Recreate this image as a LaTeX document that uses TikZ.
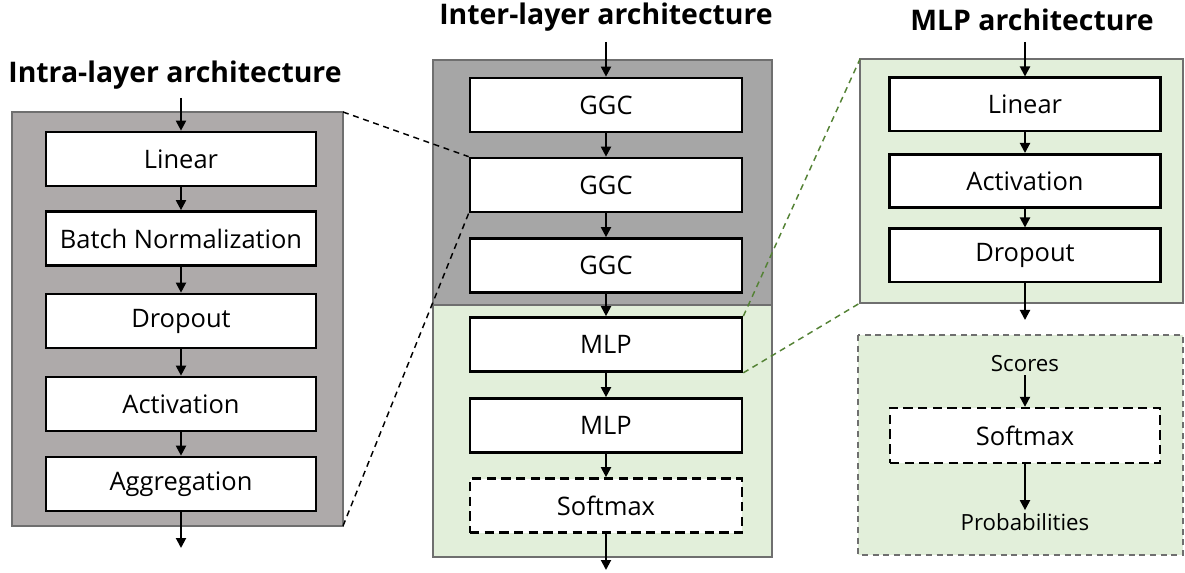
\documentclass[tikz,border=0pt]{standalone}
\usepackage{fontspec}
\setmainfont{Open Sans}
\usetikzlibrary{arrows.meta,backgrounds}
\definecolor{lgray}{HTML}{AEAAAA}
\definecolor{mgray}{HTML}{A6A6A6}
\definecolor{lgreen}{HTML}{E2EFDA}
\definecolor{dgreen}{HTML}{548235}
\definecolor{bord}{HTML}{6F6F6F}
\begin{document}
\begin{tikzpicture}[x=0.75pt,y=-0.75pt,
  box/.style={draw=black, line width=2pt, fill=white, inner sep=0pt,
    minimum height=40.5pt, font=\fontsize{19.1}{21}\selectfont},
  lbox/.style={box, minimum width=202.5pt},
  mbox/.style={box, minimum width=204pt},
  rbox/.style={box, minimum width=203.25pt, minimum height=40pt},
  dbox/.style={box, dash pattern=on 7pt off 4pt},
  title/.style={font=\fontsize{21.3}{23}\selectfont\bfseries, inner sep=0pt},
  small/.style={font=\fontsize{16.7}{18}\selectfont, inner sep=2pt},
  arr/.style={line width=1.5pt, -{Triangle[length=7.5pt,width=7.5pt]}},
  panel/.style={draw=bord, line width=1pt},
  dpanel/.style={draw=bord, line width=1pt, fill=lgreen, dash pattern=on 4.5pt off 3.5pt},
  dconn/.style={draw=black, line width=1.1pt, dash pattern=on 4.5pt off 3.5pt},
  gconn/.style={draw=dgreen, line width=1.1pt, dash pattern=on 4.5pt off 3.5pt}
]
\useasboundingbox (0,0) rectangle (1185,573);

% titles
\node[title] (t1) at (175,75) {Intra-layer architecture};
\node[title] (t2) at (606,17) {Inter-layer architecture};
\node[title] (t3) at (1032,20) {MLP architecture};

% left column
\node[lbox] (l1) at (181,159) {Linear};
\node[lbox] (l2) at (181,238.5) {Batch Normalization};
\node[lbox] (l3) at (181,321) {Dropout};
\node[lbox] (l4) at (181,404) {Activation};
\node[lbox] (l5) at (181,484) {Aggregation};
\coordinate (lin) at (181,98);
\coordinate (lout) at (181,548);

% middle column
\node[mbox] (g1) at (606,105) {GGC};
\node[mbox] (g2) at (606,185) {GGC};
\node[mbox] (g3) at (606,265.5) {GGC};
\node[mbox] (m1) at (606,344.5) {MLP};
\node[mbox] (m2) at (606,425.5) {MLP};
\node[mbox, dbox] (s1) at (606,505.5) {Softmax};
\coordinate (min) at (606,42);
\coordinate (mout) at (606,570);

% right column
\node[rbox] (r1) at (1025,104.5) {Linear};
\node[rbox] (r2) at (1025,181) {Activation};
\node[rbox] (r3) at (1025,255.5) {Dropout};
\coordinate (rin) at (1025,42);
\coordinate (rout) at (1025,320);

\node[small, anchor=base] (sc) at (1025,372) {Scores};
\node[box, dbox, minimum width=202.5pt, minimum height=41pt] (s2) at (1025,435.5) {Softmax};
\node[small, anchor=base] (pr) at (1025,530) {Probabilities};

% panels and zoom connectors
\begin{scope}[on background layer]
  \draw[panel, fill=lgray] (12,112) rectangle (343,526);
  \coordinate (p1ne) at (343,112);
  \coordinate (p1se) at (343,526);
  \draw[panel, fill=mgray] (433,60) rectangle (772,305);
  \draw[panel, fill=lgreen] (433,305) rectangle (772,557);
  \draw[panel, fill=lgreen] (860,59) rectangle (1183,303);
  \coordinate (p3nw) at (860,59);
  \coordinate (p3sw) at (860,303);
  \draw[dpanel] (858,335) rectangle (1183,555);
  \draw[dconn] (p1ne) -- (g2.north west);
  \draw[dconn] (p1se) -- (g2.south west);
  \draw[gconn] (m1.north east) -- (p3nw);
  \draw[gconn] (m1.south east) -- (p3sw);
\end{scope}

% arrows
\draw[arr] (lin) -- (l1);
\draw[arr] (l1) -- (l2);
\draw[arr] (l2) -- (l3);
\draw[arr] (l3) -- (l4);
\draw[arr] (l4) -- (l5);
\draw[arr] (l5) -- (lout);

\draw[arr] (min) -- (g1);
\draw[arr] (g1) -- (g2);
\draw[arr] (g2) -- (g3);
\draw[arr] (g3) -- (m1);
\draw[arr] (m1) -- (m2);
\draw[arr] (m2) -- (s1);
\draw[arr] (s1) -- (mout);

\draw[arr] (rin) -- (r1);
\draw[arr] (r1) -- (r2);
\draw[arr] (r2) -- (r3);
\draw[arr] (r3) -- (rout);
\draw[arr] (sc.south) -- (s2.north);
\draw[arr] (s2.south) -- (pr.north);
\end{tikzpicture}
\end{document}
